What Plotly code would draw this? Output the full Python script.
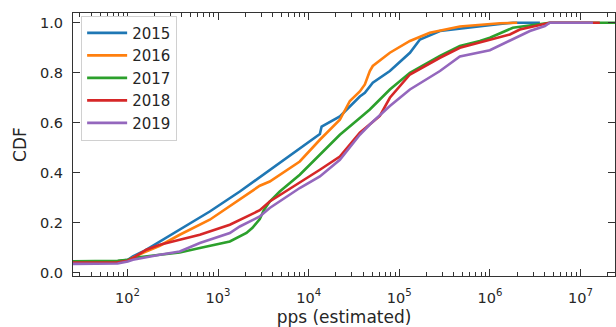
import plotly.graph_objects as go

# Empirical CDFs of estimated packet rate per year
years = ["2015", "2016", "2017", "2018", "2019"]
colors = ["#1f77b4", "#ff7f0e", "#2ca02c", "#d62728", "#9467bd"]

pps_2015 = [16, 78, 101, 115, 149, 228, 378, 811, 1740, 2890, 3720, 7980, 13300, 13900,
            22100, 36700, 41700, 51000, 78700, 131000, 169000, 281000, 774000, 1290000,
            1790000, 3560000]
cdf_2015 = [0.045, 0.046, 0.052, 0.065, 0.085, 0.125, 0.175, 0.245, 0.325, 0.383, 0.412,
            0.499, 0.555, 0.585, 0.625, 0.705, 0.72, 0.76, 0.807, 0.88, 0.933, 0.967,
            0.987, 0.995, 1.0, 1.0]

pps_2016 = [16, 78, 101, 149, 228, 378, 811, 1740, 2890, 3720, 7980, 13300, 22100, 28500,
            36700, 41700, 47300, 51000, 78700, 131000, 217000, 466000, 774000, 1290000,
            2000000]
cdf_2016 = [0.045, 0.046, 0.05, 0.08, 0.108, 0.152, 0.212, 0.295, 0.348, 0.365, 0.445,
            0.532, 0.612, 0.687, 0.725, 0.753, 0.807, 0.827, 0.88, 0.927, 0.96, 0.985,
            0.992, 0.998, 1.0]

pps_2017 = [16, 78, 101, 115, 228, 378, 630, 1350, 2060, 2400, 2890, 3200, 3720, 4800,
            7980, 13300, 22100, 36700, 47300, 78700, 131000, 281000, 466000, 774000,
            998000, 1790000, 3560000, 4580000, 40000000]
cdf_2017 = [0.045, 0.048, 0.052, 0.059, 0.072, 0.081, 0.099, 0.125, 0.159, 0.18, 0.215,
            0.25, 0.285, 0.325, 0.392, 0.472, 0.552, 0.619, 0.653, 0.733, 0.80, 0.867,
            0.907, 0.927, 0.94, 0.98, 0.993, 1.0, 1.0]

pps_2018 = [16, 78, 101, 115, 162, 228, 378, 630, 1350, 1740, 2890, 3720, 7980, 13300,
            22100, 36700, 61000, 78700, 131000, 281000, 466000, 774000, 998000, 1660000,
            2140000, 3560000, 4580000, 16300000]
cdf_2018 = [0.04, 0.042, 0.048, 0.059, 0.092, 0.112, 0.132, 0.152, 0.192, 0.212, 0.25,
            0.285, 0.359, 0.412, 0.465, 0.56, 0.627, 0.70, 0.793, 0.86, 0.90, 0.92, 0.933,
            0.953, 0.973, 0.99, 1.0, 1.0]

pps_2019 = [16, 78, 101, 115, 228, 378, 630, 1350, 1740, 2890, 3720, 7980, 13300, 22100,
            36700, 47300, 78700, 131000, 281000, 466000, 998000, 1660000, 2760000, 4040000,
            4580000, 13700000]
cdf_2019 = [0.035, 0.037, 0.045, 0.052, 0.072, 0.085, 0.119, 0.159, 0.185, 0.225, 0.259,
            0.339, 0.385, 0.452, 0.552, 0.593, 0.667, 0.733, 0.807, 0.865, 0.89, 0.927,
            0.967, 0.987, 1.0, 1.0]

series_x = [pps_2015, pps_2016, pps_2017, pps_2018, pps_2019]
series_y = [cdf_2015, cdf_2016, cdf_2017, cdf_2018, cdf_2019]

x_major = [1e2, 1e3, 1e4, 1e5, 1e6, 1e7]
x_labels = ["10<sup>%d</sup>" % e for e in range(2, 8)]
x_minor = [m * 10 ** e for e in range(1, 8) for m in range(2, 10)]
y_major = [0.0, 0.2, 0.4, 0.6, 0.8, 1.0]

fig = go.Figure()
for name, xs, ys, c in zip(years, series_x, series_y, colors):
    fig.add_trace(go.Scatter(x=xs, y=ys, mode="lines", name=name,
                             line=dict(color=c, width=2.6)))

font = dict(family="DejaVu Sans", size=14, color="#262626")
fig.update_layout(
    width=616, height=327,
    margin=dict(l=73, r=1, t=13, b=51),
    paper_bgcolor="white", plot_bgcolor="white",
    font=font,
    showlegend=True,
    legend=dict(x=0.015, y=0.99, xanchor="left", yanchor="top",
                bgcolor="white", bordercolor="#d0d0d0", borderwidth=1,
                font=dict(family="DejaVu Sans", size=15, color="#262626"),
                itemwidth=40, tracegroupgap=0),
)
fig.update_xaxes(
    type="log", range=[1.40, 7.38],
    tickvals=x_major, ticktext=x_labels,
    ticks="inside", ticklen=7, tickwidth=1.2, tickcolor="#333",
    showline=True, linecolor="#333", linewidth=1.2, mirror="ticks",
    showgrid=False, zeroline=False,
    minor=dict(tickvals=x_minor, ticks="inside", ticklen=4, tickwidth=1,
               tickcolor="#333", showgrid=False),
    title=dict(text="pps (estimated)", font=dict(size=17), standoff=6),
    tickfont=dict(size=14.5),
    ticklabelstandoff=8,
)
fig.update_yaxes(
    range=[-0.013, 1.039],
    tickvals=y_major, ticktext=["%.1f" % v for v in y_major],
    ticks="inside", ticklen=7, tickwidth=1.2, tickcolor="#333",
    showline=True, linecolor="#333", linewidth=1.2, mirror="ticks",
    showgrid=False, zeroline=False,
    title=dict(text="CDF", font=dict(size=17), standoff=8),
    tickfont=dict(size=14.5),
    ticklabelstandoff=6,
)

fig.write_html("out.html")
